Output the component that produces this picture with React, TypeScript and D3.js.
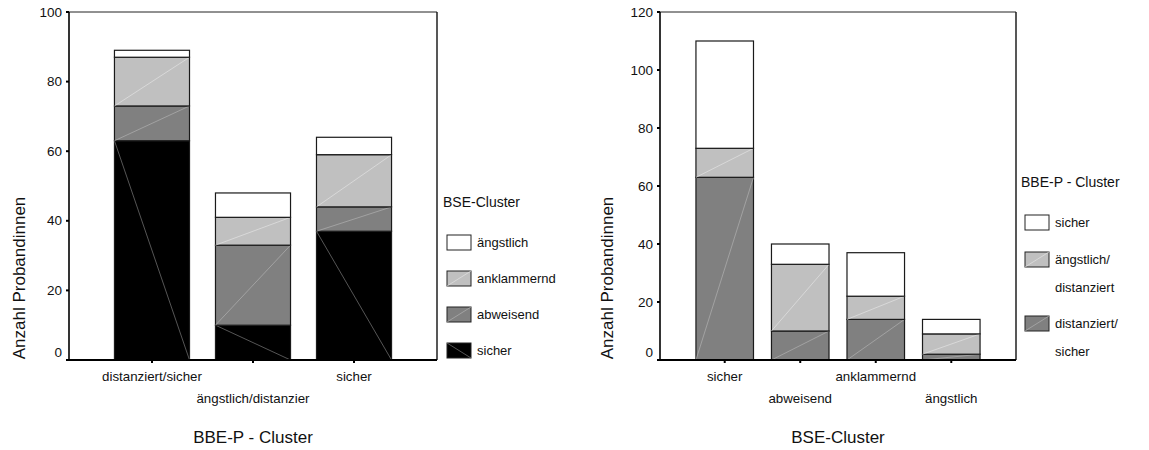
import React from "react";
import * as d3 from "d3";

// Left panel: BBE-P clusters on x, stacked by BSE cluster
const bbeCategories = ["distanziert/sicher", "ängstlich/distanzier", "sicher"];
const bseSicher = [63, 10, 37];
const bseAbweisend = [10, 23, 7];
const bseAnklammernd = [14, 8, 15];
const bseAengstlich = [2, 7, 5];
const leftTicks = [0, 20, 40, 60, 80, 100];

// Right panel: BSE clusters on x, stacked by BBE-P cluster
const bseCategories = ["sicher", "abweisend", "anklammernd", "ängstlich"];
const bbeDistSicher = [63, 10, 14, 2];
const bbeAengstDist = [10, 23, 8, 7];
const bbeSicher = [37, 7, 15, 5];
const rightTicks = [0, 20, 40, 60, 80, 100, 120];

const FONT = "'Liberation Sans', Arial, Helvetica, sans-serif";

type Fill = "black" | "dark" | "light" | "white";
const FILL_COLOR: Record<Fill, string> = {
  black: "#000000",
  dark: "#808080",
  light: "#c0c0c0",
  white: "#ffffff",
};

interface SeriesDef {
  key: string;
  legend: string[];
  values: number[];
  fill: Fill;
}

const leftSeries: SeriesDef[] = [
  { key: "sicher", legend: ["sicher"], values: bseSicher, fill: "black" },
  { key: "abweisend", legend: ["abweisend"], values: bseAbweisend, fill: "dark" },
  { key: "anklammernd", legend: ["anklammernd"], values: bseAnklammernd, fill: "light" },
  { key: "ängstlich", legend: ["ängstlich"], values: bseAengstlich, fill: "white" },
];

const rightSeries: SeriesDef[] = [
  { key: "ds", legend: ["distanziert/", "sicher"], values: bbeDistSicher, fill: "dark" },
  { key: "äd", legend: ["ängstlich/", "distanziert"], values: bbeAengstDist, fill: "light" },
  { key: "s", legend: ["sicher"], values: bbeSicher, fill: "white" },
];

// Pattern stroke drawn across each filled cell
function Hatch({ x0, y0, x1, y1, fill }: { x0: number; y0: number; x1: number; y1: number; fill: Fill }) {
  if (fill === "white") return null;
  if (fill === "black") {
    return <line x1={x0} y1={y0} x2={x1} y2={y1} stroke="#7a7a7a" strokeWidth={0.7} />;
  }
  const c = fill === "dark" ? "#b0b0b0" : "#e2e2e2";
  return <line x1={x0} y1={y1} x2={x1} y2={y0} stroke={c} strokeWidth={0.7} />;
}

interface PanelProps {
  categories: string[];
  series: SeriesDef[];
  ticks: number[];
  yMax: number;
  left: number;
  right: number;
  padInner: number;
  padOuter: number;
  yTitleX: number;
  xTitle: string;
  legendTitle: string;
  legendX: number;
  legendTitleY: number;
  legendRows: number[];
}

function Panel(p: PanelProps) {
  const top = 12;
  const bottom = 360;
  const x = d3
    .scaleBand<string>()
    .domain(p.categories)
    .range([p.left, p.right])
    .paddingInner(p.padInner)
    .paddingOuter(p.padOuter);
  const y = d3.scaleLinear().domain([0, p.yMax]).range([bottom, top]);

  const rows = p.categories.map((c, i) => {
    const r: Record<string, number | string> = { cat: c };
    p.series.forEach((s) => (r[s.key] = s.values[i]));
    return r;
  });
  const stacked = d3
    .stack<Record<string, number | string>>()
    .keys(p.series.map((s) => s.key))
    .value((d, k) => d[k] as number)(rows);

  const bw = x.bandwidth();
  const centre = (p.left + p.right) / 2;

  return (
    <g>
      {/* frame */}
      <line x1={p.left} y1={top} x2={p.right} y2={top} stroke="#222" strokeWidth={1} />
      <line x1={p.right} y1={top} x2={p.right} y2={bottom} stroke="#111" strokeWidth={1.4} />

      {/* bars */}
      {stacked.map((layer, li) => {
        const s = p.series[li];
        return (
          <g key={s.key}>
            {layer.map((d, i) => {
              const x0 = x(p.categories[i]) as number;
              const yTop = y(d[1]);
              const yBot = y(d[0]);
              return (
                <g key={i}>
                  <rect
                    x={x0}
                    y={yTop}
                    width={bw}
                    height={yBot - yTop}
                    fill={FILL_COLOR[s.fill]}
                    stroke="#1a1a1a"
                    strokeWidth={1.2}
                  />
                  <Hatch x0={x0} y0={yTop} x1={x0 + bw} y1={yBot} fill={s.fill} />
                </g>
              );
            })}
          </g>
        );
      })}

      {/* y axis */}
      <line x1={p.left} y1={top} x2={p.left} y2={bottom} stroke="#000" strokeWidth={1.6} />
      {p.ticks.map((t) => (
        <g key={t}>
          <line x1={p.left - 3} y1={y(t)} x2={p.left} y2={y(t)} stroke="#000" strokeWidth={2} />
          <text
            x={p.left - 7}
            y={y(t) + (t === 0 ? -8 : 0)}
            textAnchor="end"
            dominantBaseline="central"
            fontFamily={FONT}
            fontSize={13.5}
            fill="#111"
          >
            {t}
          </text>
        </g>
      ))}

      {/* x axis */}
      <line x1={p.left - 3} y1={bottom} x2={p.right} y2={bottom} stroke="#000" strokeWidth={1.8} />
      {p.categories.map((c, i) => {
        const cx = (x(c) as number) + bw / 2;
        return (
          <g key={c}>
            <line x1={cx} y1={bottom} x2={cx} y2={bottom + 3} stroke="#000" strokeWidth={2} />
            <text
              x={cx}
              y={i % 2 === 0 ? 381 : 403}
              textAnchor="middle"
              fontFamily={FONT}
              fontSize={13.3}
              fill="#111"
            >
              {c}
            </text>
          </g>
        );
      })}

      {/* axis titles */}
      <text
        transform={`translate(${p.yTitleX},${278}) rotate(-90)`}
        textAnchor="middle"
        dominantBaseline="central"
        fontFamily={FONT}
        fontSize={17}
        fill="#111"
      >
        Anzahl Probandinnen
      </text>
      <text x={centre} y={443} textAnchor="middle" fontFamily={FONT} fontSize={17} fill="#111">
        {p.xTitle}
      </text>

      {/* legend */}
      <text x={p.legendX - 4} y={p.legendTitleY} fontFamily={FONT} fontSize={14} fill="#111">
        {p.legendTitle}
      </text>
      {[...p.series].reverse().map((s, i) => {
        const sy = p.legendRows[i];
        const sx = p.legendX;
        return (
          <g key={s.key}>
            <rect x={sx} y={sy} width={24} height={15} fill={FILL_COLOR[s.fill]} stroke="#222" strokeWidth={1} />
            {s.fill === "black" ? (
              <line x1={sx} y1={sy} x2={sx + 24} y2={sy + 15} stroke="#7a7a7a" strokeWidth={0.7} />
            ) : (
              <Hatch x0={sx} y0={sy} x1={sx + 24} y1={sy + 15} fill={s.fill} />
            )}
            {s.legend.map((line, li) => (
              <text
                key={li}
                x={sx + 30}
                y={sy + 7.5 + li * 28}
                dominantBaseline="central"
                fontFamily={FONT}
                fontSize={13}
                fill="#111"
              >
                {line}
              </text>
            ))}
          </g>
        );
      })}
    </g>
  );
}

export default function App() {
  return (
    <svg
      width={1149}
      height={450}
      style={{ position: "absolute", left: 0, top: 0, display: "block", background: "#fff" }}
    >
      <rect width={1149} height={450} fill="#fff" />
      <Panel
        categories={bbeCategories}
        series={leftSeries}
        ticks={leftTicks}
        yMax={100}
        left={69}
        right={437}
        padInner={0.257}
        padOuter={0.45}
        yTitleX={19}
        xTitle="BBE-P - Cluster"
        legendTitle="BSE-Cluster"
        legendX={447}
        legendTitleY={207}
        legendRows={[235, 271, 307, 343]}
      />
      <Panel
        categories={bseCategories}
        series={rightSeries}
        ticks={rightTicks}
        yMax={120}
        left={660}
        right={1016}
        padInner={0.238}
        padOuter={0.476}
        yTitleX={607}
        xTitle="BSE-Cluster"
        legendTitle="BBE-P - Cluster"
        legendX={1025}
        legendTitleY={187}
        legendRows={[215, 252, 316]}
      />
    </svg>
  );
}
